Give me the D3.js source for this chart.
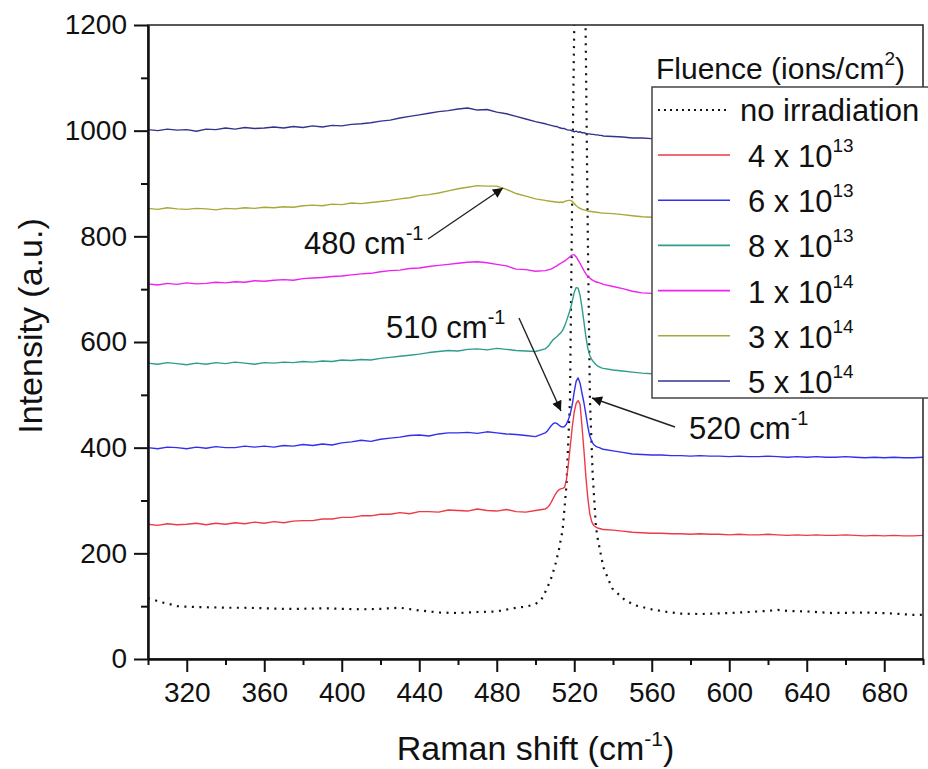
<!DOCTYPE html>
<html>
<head>
    <title>Raman</title>
    <script src="https://d3js.org/d3.v7.min.js"></script>
    <style>
        body { margin: 0; background: #fff; }
        svg { display: block; font-family: "Liberation Sans", Arial, sans-serif; }
    </style>
</head>
<body>
<svg id="chart"></svg>
<script>
// Raman shift grid (cm-1) shared by the irradiated spectra
const shift = [
    300, 305, 310, 315, 320, 325, 330, 335, 340, 345, 350, 355, 360, 365, 370, 375, 380, 385, 390, 395,
    400, 405, 410, 415, 420, 425, 430, 435, 440, 445, 450, 455, 460, 465, 470, 475, 480, 485, 490, 495,
    500, 505,
    506, 507, 508, 509, 510, 511, 512, 513, 514, 515, 516, 517, 518, 519, 520, 521, 522, 523, 524, 525,
    526, 527, 528, 529, 530, 531, 532, 533, 534,
    535, 540, 545, 550, 555, 560, 565, 570, 575, 580, 585, 590, 595, 600, 605, 610, 615, 620, 625, 630,
    635, 640, 645, 650, 655, 660, 665, 670, 675, 680, 685, 690, 695, 700
];

const red4e13 = [
    255, 253, 256, 254, 255, 257, 254, 257, 255, 258, 256, 259, 257, 260, 258, 261, 262, 262, 265, 265,
    268, 268, 271, 271, 274, 274, 277, 275, 279, 279, 278, 282, 281, 280, 284, 281, 280, 283, 279, 278,
    281, 284,
    286, 290, 296, 303, 310, 316, 320, 322, 323, 325, 340, 370, 405, 440, 468, 484, 489, 482, 440, 395,
    345, 305, 275, 260, 253, 250, 248, 247, 246,
    245, 244, 242, 240, 239, 238, 238, 237, 237, 236, 237, 236, 236, 235, 236, 235, 235, 236, 235, 234,
    235, 234, 235, 234, 234, 235, 234, 233, 234, 233, 234, 233, 233, 234
];

const blue6e13 = [
    400, 398, 401, 400, 398, 401, 399, 402, 400, 400, 403, 401, 403, 401, 404, 403, 406, 404, 407, 405,
    409, 411, 414, 412, 416, 418, 420, 423, 424, 422, 426, 428, 428, 429, 427, 430, 428, 426, 425, 423,
    421, 428,
    431, 436, 441, 445, 447, 446, 443, 440, 439, 440, 445, 453, 465, 482, 506, 526, 532, 522, 503, 485,
    463, 440, 422, 412, 406, 403, 401, 400, 398,
    397, 394, 391, 388, 387, 386, 386, 385, 385, 384, 385, 384, 384, 383, 384, 383, 383, 384, 383, 382,
    383, 382, 383, 382, 382, 383, 382, 381, 382, 381, 382, 381, 381, 382
];

const teal8e13 = [
    560, 558, 561, 559, 557, 560, 558, 561, 559, 562, 560, 558, 561, 560, 562, 561, 563, 562, 564, 563,
    566, 565, 567, 566, 569, 571, 573, 575, 577, 580, 582, 584, 583, 586, 587, 585, 588, 586, 584, 583,
    582, 587,
    590, 594, 599, 604, 607, 610, 614, 617, 622, 630, 640, 651, 662, 678, 694, 703, 702, 688, 665, 638,
    610, 588, 575, 567, 562, 558, 555, 553, 551,
    550, 547, 545, 543, 541, 540, 539, 538, 538, 537, 537, 536, 536, 535, 535, 534, 534, 534, 533, 533,
    533, 532, 532, 532, 531, 531, 531, 530, 530, 530, 529, 529, 529, 528
];

const magenta1e14 = [
    710, 708, 711, 709, 712, 710, 711, 713, 712, 714, 713, 716, 715, 717, 718, 717, 720, 721, 722, 724,
    725, 727, 729, 730, 733, 735, 736, 739, 740, 743, 745, 747, 749, 751, 752, 750, 747, 744, 738, 737,
    734, 735,
    736, 737, 738, 740, 742, 744, 747, 749, 751, 753, 756, 759, 762, 765, 765, 761, 755, 749, 742, 735,
    729, 724, 721, 718, 716, 714, 713, 712, 711,
    709, 705, 701, 696, 693, 692, 691, 690, 690, 689, 689, 688, 688, 687, 687, 687, 686, 686, 686, 685,
    685, 685, 684, 684, 684, 684, 683, 683, 683, 683, 682, 682, 682, 682
];

const olive3e14 = [
    853, 851, 854, 852, 851, 853, 852, 850, 853, 852, 854, 853, 855, 854, 856, 855, 858, 859, 858, 861,
    860, 863, 862, 864, 866, 868, 871, 873, 877, 879, 882, 886, 890, 893, 896, 895, 895, 889, 881, 876,
    871, 868,
    867, 867, 866, 866, 865, 865, 864, 865, 864, 866, 867, 868, 868, 866, 862, 858, 855, 853, 851, 850,
    849, 848, 847, 847, 846, 846, 845, 845, 844,
    844, 843, 841, 839, 837, 836, 835, 834, 834, 833, 833, 832, 832, 831, 831, 830, 830, 830, 829, 829,
    829, 828, 828, 828, 827, 827, 827, 826, 826, 826, 825, 825, 825, 824
];

const navy5e14 = [
    1002, 1000, 1003, 1001, 1002, 999, 1003, 1002, 1005, 1003, 1006, 1004, 1005, 1007, 1005, 1008, 1006, 1009, 1007, 1010,
    1009, 1012, 1013, 1015, 1018, 1020, 1024, 1027, 1030, 1033, 1036, 1038, 1041, 1043, 1039, 1040, 1035, 1032, 1027, 1022,
    1017, 1013,
    1012, 1011, 1010, 1009, 1008, 1008, 1006, 1005, 1004, 1004, 1002, 1001, 1001, 999, 998, 999, 997, 998, 996, 996,
    995, 994, 994, 993, 993, 992, 992, 991, 991,
    990, 989, 988, 986, 986, 985, 984, 984, 983, 983, 982, 982, 981, 981, 980, 980, 980, 979, 979, 978,
    978, 978, 977, 977, 977, 976, 976, 976, 975, 975, 975, 974, 974, 974
];

// unirradiated reference (its own grid, the Si peak goes far off scale)
const noIrrShift = [
    300, 303, 306, 310, 315, 320, 330, 340, 350, 360, 370, 380, 390, 400, 410, 420, 430, 440, 450, 460,
    470, 480, 490, 495, 500, 503, 506, 508, 510, 512, 513, 514, 516, 517.8, 519.3, 520, 521, 522.5, 524, 525.5,
    526, 527, 528.1, 529.5, 531.2, 532, 535, 539.5, 546, 551, 560, 568, 575, 585, 600, 610, 620, 625, 630, 640,
    653, 670, 685, 697, 700
];
const noIrrInt = [
    115, 112, 108, 105, 100, 99, 98, 97, 97, 96, 95, 95, 96, 95, 94, 95, 97, 92, 88, 87,
    89, 90, 97, 99, 104, 112, 134, 152, 175, 205, 225, 244, 330, 490, 1000, 1200, 2200, 4000, 2600, 1300,
    1150, 800, 490, 350, 250, 230, 174, 134, 112, 102, 94, 89, 86, 85, 87, 89, 91, 93, 91, 90,
    87, 88, 86, 83, 84
];

const seriesNames = ["4 x 10", "6 x 10", "8 x 10", "1 x 10", "3 x 10", "5 x 10"];
const seriesExp = ["13", "13", "13", "14", "14", "14"];
const seriesColors = ["#ee3a44", "#3030ee", "#2f9c8c", "#ee22ee", "#a8a83a", "#33338e"];
const seriesData = [red4e13, blue6e13, teal8e13, magenta1e14, olive3e14, navy5e14];

const xMajor = [320, 360, 400, 440, 480, 520, 560, 600, 640, 680];
const xMinor = [300, 340, 380, 420, 460, 500, 540, 580, 620, 660, 700];
const yMajor = [0, 200, 400, 600, 800, 1000, 1200];
const yMinor = [100, 300, 500, 700, 900, 1100];

const W = 928, H = 769;
const pLeft = 148, pRight = 923, pTop = 25, pBottom = 659;

const svg = d3.select('#chart').attr('width', W).attr('height', H);

const x = d3.scaleLinear().domain([300, 700]).range([pLeft, pRight]);
const y = d3.scaleLinear().domain([0, 1200]).range([pBottom, pTop]);

svg.append('clipPath').attr('id', 'plotClip')
    .append('rect').attr('x', pLeft).attr('y', pTop).attr('width', pRight - pLeft).attr('height', pBottom - pTop);

const plot = svg.append('g').attr('clip-path', 'url(#plotClip)');

const line = d3.line().x(d => x(d[0])).y(d => y(d[1]));

// reference spectrum
plot.append('path')
    .attr('d', line(noIrrShift.map((s, i) => [s, noIrrInt[i]])))
    .attr('fill', 'none')
    .attr('stroke', '#111')
    .attr('stroke-width', 2.2)
    .attr('stroke-dasharray', '2,5.5');

seriesData.forEach((vals, k) => {
    plot.append('path')
        .attr('d', line(shift.map((s, i) => [s, vals[i]])))
        .attr('fill', 'none')
        .attr('stroke', seriesColors[k])
        .attr('stroke-width', 1.4)
        .attr('stroke-linejoin', 'round');
});

// frame
svg.append('rect')
    .attr('x', pLeft).attr('y', pTop).attr('width', pRight - pLeft).attr('height', pBottom - pTop)
    .attr('fill', 'none').attr('stroke', '#222').attr('stroke-width', 1.5);

// axes
function styleAxis(g) {
    g.select('.domain').attr('stroke', '#111').attr('stroke-width', 2);
    g.selectAll('.tick line').attr('stroke', '#111').attr('stroke-width', 2);
    g.selectAll('.tick text').attr('font-size', '28px').attr('fill', '#111')
        .attr('font-family', '"Liberation Sans", Arial, sans-serif');
}

svg.append('g').attr('transform', `translate(0,${pBottom})`)
    .call(d3.axisBottom(x).tickValues(xMinor).tickSize(6).tickFormat('').tickSizeOuter(0))
    .call(styleAxis);
svg.append('g').attr('transform', `translate(0,${pBottom})`)
    .call(d3.axisBottom(x).tickValues(xMajor).tickSize(13).tickPadding(10).tickSizeOuter(0).tickFormat(d3.format('d')))
    .call(styleAxis);

svg.append('g').attr('transform', `translate(${pLeft},0)`)
    .call(d3.axisLeft(y).tickValues(yMinor).tickSize(7).tickFormat('').tickSizeOuter(0))
    .call(styleAxis);
svg.append('g').attr('transform', `translate(${pLeft},0)`)
    .call(d3.axisLeft(y).tickValues(yMajor).tickSize(14).tickPadding(7).tickSizeOuter(0).tickFormat(d3.format('d')))
    .call(styleAxis);

// axis titles
const xt = svg.append('text')
    .attr('x', (pLeft + pRight) / 2).attr('y', 760)
    .attr('text-anchor', 'middle').attr('font-size', '34px').attr('fill', '#111');
xt.append('tspan').text('Raman shift (cm');
xt.append('tspan').attr('dy', -14).attr('font-size', '21px').text('-1');
xt.append('tspan').attr('dy', 14).text(')');

svg.append('text')
    .attr('transform', 'translate(42,326) rotate(-90)')
    .attr('text-anchor', 'middle').attr('font-size', '34px').attr('fill', '#111')
    .text('Intensity (a.u.)');

// annotations
svg.append('defs').append('marker')
    .attr('id', 'arrow').attr('viewBox', '0 0 10 10')
    .attr('refX', 10).attr('refY', 5)
    .attr('markerWidth', 14).attr('markerHeight', 10)
    .attr('markerUnits', 'userSpaceOnUse')
    .attr('orient', 'auto')
    .append('path').attr('d', 'M0,0 L10,5 L0,10 Z').attr('fill', '#111');

function note(tx, ty, label, x1, y1, x2, y2) {
    const t = svg.append('text').attr('x', tx).attr('y', ty)
        .attr('font-size', '31px').attr('fill', '#111');
    t.append('tspan').text(label + ' cm');
    t.append('tspan').attr('dy', -14).attr('font-size', '20px').text('-1');
    svg.append('line')
        .attr('x1', x1).attr('y1', y1).attr('x2', x2).attr('y2', y2)
        .attr('stroke', '#222').attr('stroke-width', 1.4)
        .attr('marker-end', 'url(#arrow)');
}

note(304, 254, '480', 428, 239, 503, 188);
note(386, 338, '510', 519, 318, 561, 411);
note(689, 439, '520', 675, 427, 592, 398);

// legend
const lx = 652, ly = 87;
svg.append('text').attr('x', 656).attr('y', 79)
    .attr('font-size', '30px').attr('fill', '#111')
    .call(t => {
        t.append('tspan').text('Fluence (ions/cm');
        t.append('tspan').attr('dy', -14).attr('font-size', '19px').text('2');
        t.append('tspan').attr('dy', 14).text(')');
    });

svg.append('rect')
    .attr('x', lx).attr('y', ly).attr('width', 290).attr('height', 311)
    .attr('fill', '#fff').attr('stroke', '#444').attr('stroke-width', 1.5);

svg.append('line')
    .attr('x1', 658).attr('x2', 730).attr('y1', 110).attr('y2', 110)
    .attr('stroke', '#111').attr('stroke-width', 2).attr('stroke-dasharray', '2,4');
svg.append('text').attr('x', 740).attr('y', 121)
    .attr('font-size', '31px').attr('fill', '#111').text('no irradiation');

seriesNames.forEach((name, k) => {
    const yy = 155 + k * 45.2;
    svg.append('line')
        .attr('x1', 658).attr('x2', 730).attr('y1', yy).attr('y2', yy)
        .attr('stroke', seriesColors[k]).attr('stroke-width', 1.6);
    const t = svg.append('text').attr('x', 748).attr('y', yy + 12)
        .attr('font-size', '31px').attr('fill', '#111');
    t.append('tspan').text(name);
    t.append('tspan').attr('dy', -15).attr('font-size', '19px').text(seriesExp[k]);
});
</script>
</body>
</html>
